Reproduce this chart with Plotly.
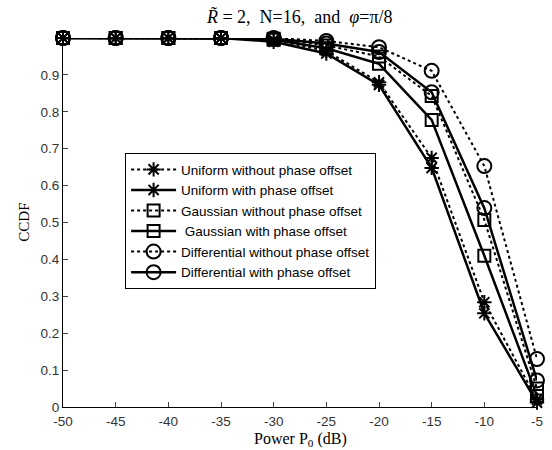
import plotly.graph_objects as go

power_db = [-50, -45, -40, -35, -30, -25, -20, -15, -10, -5]

uniform_without = [1, 1, 1, 1, 0.995, 0.965, 0.880, 0.675, 0.284, 0.020]
uniform_with = [1, 1, 1, 1, 0.990, 0.958, 0.873, 0.648, 0.254, 0.012]
gaussian_without = [1, 1, 1, 1, 0.998, 0.980, 0.950, 0.843, 0.507, 0.050]
gaussian_with = [1, 1, 1, 1, 0.995, 0.972, 0.930, 0.778, 0.410, 0.030]
differential_without = [1, 1, 1, 1, 1.000, 0.992, 0.975, 0.911, 0.653, 0.130]
differential_with = [1, 1, 1, 1, 0.998, 0.985, 0.962, 0.853, 0.539, 0.072]

series = [
    ("Uniform without phase offset", uniform_without, "dot", "asterisk-open", 12),
    ("Uniform with phase offset", uniform_with, "solid", "asterisk-open", 12),
    ("Gaussian without phase offset", gaussian_without, "dot", "square-open", 12),
    (" Gaussian with phase offset", gaussian_with, "solid", "square-open", 12),
    ("Differential without phase offset", differential_without, "dot", "circle-open", 14),
    ("Differential with phase offset", differential_with, "solid", "circle-open", 14),
]

x_ticks = [-50, -45, -40, -35, -30, -25, -20, -15, -10, -5]
x_ticktext = ["-50", "-45", "-40", "-35", "-30", "-25", "-20", "-15", "-10", "-5"]
y_ticks = [0, 0.1, 0.2, 0.3, 0.4, 0.5, 0.6, 0.7, 0.8, 0.9]
y_ticktext = ["0", "0.1", "0.2", "0.3", "0.4", "0.5", "0.6", "0.7", "0.8", "0.9"]

fig = go.Figure()
for name, vals, dash, sym, size in series:
    fig.add_trace(go.Scatter(
        x=power_db, y=vals, name=name, mode="lines+markers",
        line=dict(color="black", width=2 if dash == "dot" else 2.5, dash=dash),
        marker=dict(symbol=sym, size=size, color="black", line=dict(color="black", width=2)),
        cliponaxis=False,
    ))

serif = "Liberation Serif, Times New Roman, serif"
sans = "Liberation Sans, Arial, sans-serif"
nb = "\u00a0"

fig.update_layout(
    width=552, height=450,
    margin=dict(l=63, r=15, t=38, b=43),
    paper_bgcolor="white", plot_bgcolor="white",
    title=dict(text=f"<i>R̃</i>{nb}={nb}2,{nb} N=16,{nb} and{nb} <i>φ</i>=π/8", x=0.543, xanchor="center",
               y=0.962, yanchor="middle", font=dict(family=serif, size=18, color="black")),
    xaxis=dict(range=[-50, -5], tickvals=x_ticks, ticktext=x_ticktext, ticks="inside", ticklen=5,
               showline=True, linecolor="black", linewidth=1, showgrid=False, zeroline=False,
               ticklabelstandoff=2, automargin=False,
               tickfont=dict(family=sans, size=13.5, color="#333")),
    yaxis=dict(range=[0, 1], tickvals=y_ticks, ticktext=y_ticktext, ticks="inside", ticklen=5,
               showline=True, linecolor="black", linewidth=1, showgrid=False, zeroline=False,
               automargin=False,
               tickfont=dict(family=sans, size=13.5, color="#333")),
    legend=dict(x=0.131, y=0.688, xanchor="left", yanchor="top",
                bgcolor="white", bordercolor="black", borderwidth=1,
                font=dict(family=sans, size=13.5, color="black"),
                itemwidth=45, tracegroupgap=0),
    showlegend=True,
    annotations=[
        dict(text="Power P<sub>0</sub> (dB)", xref="paper", yref="paper", x=0.5, y=-0.089,
             xanchor="center", yanchor="middle", showarrow=False,
             font=dict(family=serif, size=16, color="black")),
        dict(text="CCDF", xref="paper", yref="paper", x=-0.084, y=0.5, textangle=-90,
             xanchor="center", yanchor="middle", showarrow=False,
             font=dict(family=serif, size=15, color="black")),
    ],
)

fig.write_html("out.html", config={"displayModeBar": False},
               post_script="document.body.style.margin='0';")
